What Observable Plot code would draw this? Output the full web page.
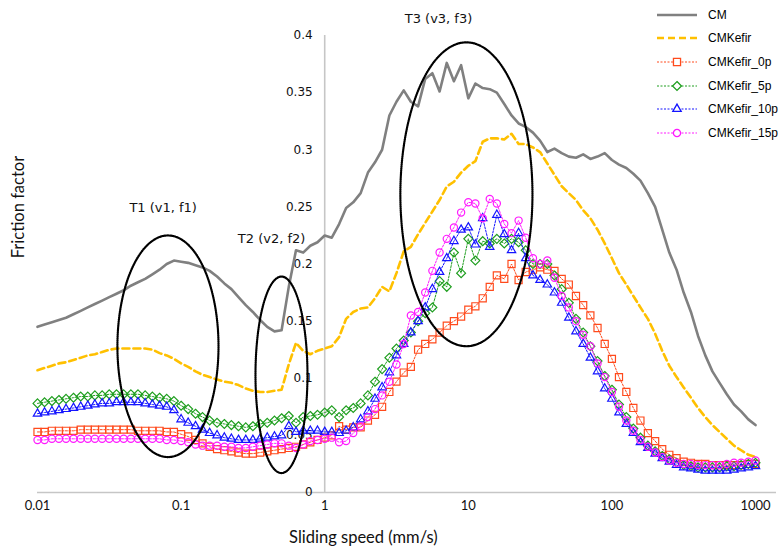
<!DOCTYPE html>
<html><head><meta charset="utf-8">
<script src="https://cdn.jsdelivr.net/npm/d3@7"></script>
<script src="https://cdn.jsdelivr.net/npm/@observablehq/plot@0.6"></script>
<style>
body{margin:0;background:#fff;}
#wrap{position:relative;width:779px;height:552px;overflow:hidden;}
#legend{position:absolute;left:656px;top:3px;font-family:"Liberation Sans",Arial,sans-serif;font-size:12px;color:#000;}
.item{display:flex;align-items:center;height:23.6px;white-space:nowrap;}
.item svg{margin-right:10px;}
</style></head><body><div id="wrap"></div>
<script>
// Sliding speed (mm/s) sample points
const speed = [
0.01,0.0112,0.0126,0.0141,0.0158,0.0178,0.02,0.0224,0.0251,0.0282,0.0316,0.0355,0.0398,0.0447,0.0501,0.0562,0.0631,0.0708,0.0794,0.0891,
0.1,0.112,0.126,0.141,0.158,0.178,0.2,0.224,0.251,0.282,0.316,0.355,0.398,0.447,0.501,0.562,0.631,0.708,0.794,0.891,
1,1.12,1.26,1.41,1.58,1.78,2,2.24,2.51,2.82,3.16,3.55,3.98,4.47,5.01,5.62,6.31,7.08,7.94,8.91,
10,11.2,12.6,14.1,15.8,17.8,20,22.4,25.1,28.2,31.6,35.5,39.8,44.7,50.1,56.2,63.1,70.8,79.4,89.1,
100,112,126,141,158,178,200,224,251,282,316,355,398,447,501,562,631,708,794,891,
1000];

const cm = [
0.145,0.147,0.149,0.151,0.153,0.156,0.159,0.162,0.165,0.168,
0.171,0.174,0.177,0.181,0.184,0.187,0.191,0.195,0.200,0.203,
0.202,0.201,0.199,0.197,0.194,0.189,0.183,0.178,0.171,0.164,
0.158,0.151,0.145,0.141,0.142,0.180,0.212,0.210,0.216,0.219,
0.225,0.223,0.235,0.249,0.254,0.262,0.280,0.289,0.300,0.330,
0.342,0.352,0.342,0.338,0.362,0.367,0.351,0.376,0.360,0.374,
0.345,0.358,0.354,0.353,0.350,0.340,0.330,0.323,0.320,0.315,
0.308,0.298,0.301,0.297,0.294,0.293,0.296,0.292,0.294,0.297,
0.291,0.287,0.284,0.279,0.273,0.262,0.250,0.230,0.210,0.195,
0.175,0.158,0.137,0.120,0.106,0.096,0.086,0.077,0.071,0.064,0.059];

const cmKefir = [
0.107,0.109,0.111,0.113,0.114,0.116,0.118,0.120,0.121,0.123,
0.125,0.126,0.126,0.126,0.126,0.126,0.125,0.122,0.120,0.117,
0.113,0.110,0.106,0.103,0.101,0.099,0.097,0.096,0.094,0.091,
0.089,0.088,0.088,0.089,0.090,0.112,0.131,0.124,0.121,0.124,
0.126,0.128,0.136,0.152,0.158,0.161,0.162,0.170,0.180,0.176,
0.192,0.211,0.215,0.226,0.236,0.246,0.256,0.268,0.272,0.280,
0.286,0.290,0.307,0.310,0.310,0.309,0.314,0.305,0.305,0.302,
0.298,0.288,0.278,0.268,0.262,0.256,0.247,0.240,0.230,0.218,
0.205,0.192,0.182,0.172,0.162,0.152,0.139,0.124,0.111,0.101,
0.092,0.083,0.074,0.066,0.059,0.053,0.047,0.041,0.037,0.033,0.031];

const kefir0p = [
0.053,0.053,0.054,0.054,0.054,0.054,0.055,0.055,0.055,0.055,
0.055,0.055,0.055,0.055,0.054,0.054,0.054,0.054,0.053,0.053,
0.051,0.049,0.046,0.043,0.040,0.038,0.037,0.036,0.035,0.034,
0.034,0.035,0.036,0.037,0.038,0.039,0.040,0.042,0.044,0.046,
0.048,0.050,0.058,0.055,0.057,0.057,0.063,0.068,0.075,0.088,
0.097,0.105,0.110,0.125,0.130,0.134,0.140,0.146,0.150,0.154,
0.160,0.163,0.170,0.180,0.190,0.187,0.200,0.186,0.193,0.195,
0.197,0.195,0.194,0.187,0.182,0.172,0.164,0.155,0.144,0.130,
0.117,0.101,0.088,0.074,0.063,0.052,0.045,0.038,0.033,0.030,
0.027,0.026,0.025,0.025,0.024,0.024,0.024,0.024,0.024,0.025,0.025];

const kefir5p = [
0.078,0.079,0.080,0.081,0.082,0.083,0.084,0.084,0.085,0.085,
0.086,0.086,0.086,0.086,0.086,0.085,0.084,0.083,0.082,0.080,
0.076,0.073,0.069,0.066,0.063,0.061,0.060,0.059,0.058,0.057,
0.058,0.060,0.061,0.063,0.065,0.067,0.061,0.066,0.067,0.068,
0.070,0.072,0.066,0.072,0.074,0.078,0.085,0.097,0.108,0.118,
0.126,0.133,0.140,0.150,0.157,0.162,0.185,0.180,0.210,0.192,
0.222,0.203,0.220,0.218,0.222,0.218,0.222,0.219,0.212,0.200,
0.200,0.200,0.190,0.178,0.166,0.152,0.140,0.128,0.115,0.102,
0.090,0.077,0.066,0.056,0.048,0.041,0.036,0.032,0.029,0.026,
0.024,0.023,0.022,0.022,0.022,0.022,0.023,0.023,0.024,0.025,0.026];

const kefir10p = [
0.069,0.070,0.071,0.072,0.073,0.074,0.075,0.076,0.077,0.078,
0.078,0.079,0.079,0.079,0.079,0.078,0.077,0.076,0.075,0.072,
0.064,0.061,0.058,0.055,0.052,0.050,0.048,0.047,0.046,0.046,
0.046,0.047,0.048,0.049,0.050,0.058,0.053,0.054,0.054,0.054,
0.053,0.053,0.052,0.054,0.057,0.064,0.071,0.082,0.092,0.105,
0.120,0.130,0.140,0.150,0.162,0.178,0.193,0.205,0.220,0.230,
0.232,0.217,0.240,0.215,0.243,0.226,0.212,0.227,0.205,0.190,
0.186,0.182,0.175,0.166,0.153,0.141,0.130,0.118,0.106,0.091,
0.082,0.070,0.060,0.052,0.044,0.039,0.034,0.030,0.027,0.024,
0.022,0.021,0.020,0.019,0.019,0.019,0.019,0.020,0.021,0.022,0.023];

const kefir15p = [
0.046,0.046,0.047,0.047,0.047,0.047,0.047,0.047,0.047,0.047,
0.047,0.047,0.047,0.047,0.047,0.047,0.047,0.047,0.046,0.046,
0.045,0.044,0.042,0.041,0.041,0.041,0.040,0.040,0.039,0.039,
0.040,0.041,0.042,0.043,0.043,0.041,0.039,0.042,0.045,0.046,
0.047,0.048,0.044,0.045,0.052,0.058,0.066,0.073,0.085,0.097,
0.112,0.130,0.155,0.158,0.175,0.194,0.210,0.222,0.232,0.245,
0.254,0.253,0.240,0.257,0.253,0.235,0.227,0.238,0.223,0.205,
0.200,0.203,0.188,0.172,0.162,0.150,0.138,0.128,0.113,0.101,
0.088,0.075,0.063,0.054,0.046,0.040,0.035,0.031,0.028,0.026,
0.025,0.025,0.024,0.024,0.024,0.024,0.025,0.026,0.026,0.027,0.028];

const seriesNames = ["CM","CMKefir","CMKefir_0p","CMKefir_5p","CMKefir_10p","CMKefir_15p"];
const seriesValues = [cm, cmKefir, kefir0p, kefir5p, kefir10p, kefir15p];
const seriesColors = ["#808080","#ffc000","#ff4a1c","#1e9e1e","#1414ff","#ff1aff"];
const seriesSymbols = [null, null, "square", "diamond2", "triangle2", "circle"];

const xTicks = [0.01, 0.1, 1, 10, 100, 1000];
const xTickLabels = ["0.01","0.1","1","10","100","1000"];
const yTicks = [0, 0.05, 0.1, 0.15, 0.2, 0.25, 0.3, 0.35, 0.4];
const yTickLabels = ["0","0.05","0.1","0.15","0.2","0.25","0.3","0.35","0.4"];
const yAxisAt = 1;

// annotation ellipses: centre (speed, friction), half-width in decades, half-height in friction units
const ellipseNames = ["T1 (v1, f1)","T2 (v2, f2)","T3 (v3, f3)"];
const ellipseCx = [0.081, 0.5, 9.7];
const ellipseCy = [0.128, 0.103, 0.261];
const ellipseRxDec = [0.352, 0.181, 0.46];
const ellipseRyF = [0.097, 0.086, 0.133];
const labelX = [0.075, 0.427, 6.2];
const labelY = [0.249, 0.222, 0.415];

const rows = seriesNames.map((n, s) => speed.map((v, i) => ({speed: v, f: seriesValues[s][i], name: n})));
const ellipsePts = [];
ellipseNames.forEach((n, e) => {
  for (let a = 0; a <= 360; a += 2) {
    const t = a * Math.PI / 180;
    ellipsePts.push({id: n, speed: ellipseCx[e] * Math.pow(10, ellipseRxDec[e] * Math.cos(t)), f: ellipseCy[e] + ellipseRyF[e] * Math.sin(t)});
  }
});

const marks = [
  Plot.ruleY([0], {stroke: "#c6c6c6", strokeWidth: 1.6}),
  Plot.ruleX([yAxisAt], {y1: 0, y2: 0.4, stroke: "#c6c6c6", strokeWidth: 1.6}),
  Plot.text(xTicks, {x: d => d, frameAnchor: "bottom", dy: 17, text: (d, i) => xTickLabels[i], fontFamily: "Lato, sans-serif", fontSize: 13, fill: "#111"}),
  Plot.text(yTicks, {x: yAxisAt, y: d => d, text: (d, i) => yTickLabels[i], textAnchor: "end", dx: -12, fontFamily: "DejaVu Sans, sans-serif", fontSize: 12, fill: "#111"}),
  Plot.text(["Sliding speed (mm/s)"], {x: 1.86, frameAnchor: "bottom", dy: 50, fontFamily: "Lato, sans-serif", fontSize: 16.5, fill: "#111"}),
  Plot.text(["Friction factor"], {y: 0.205, frameAnchor: "left", dx: -19, rotate: -90, fontFamily: "Lato, sans-serif", fontSize: 16.5, fill: "#111"})
];
// lines
seriesNames.forEach((n, s) => {
  if (seriesSymbols[s] === null) {
    marks.push(Plot.line(rows[s], {x: "speed", y: "f", stroke: seriesColors[s], strokeWidth: 2.6,
      strokeDasharray: s === 1 ? "7,4" : null}));
  }
});
seriesNames.forEach((n, s) => {
  if (seriesSymbols[s] !== null) {
    marks.push(Plot.line(rows[s], {x: "speed", y: "f", stroke: seriesColors[s], strokeWidth: 1, strokeDasharray: "2,1.5"}));
    marks.push(Plot.dot(rows[s], {x: "speed", y: "f", symbol: seriesSymbols[s], r: seriesSymbols[s] === "circle" ? 3.6 : 4, stroke: seriesColors[s], strokeWidth: 1.2, fill: "none"}));
  }
});
marks.push(Plot.line(ellipsePts, {x: "speed", y: "f", z: "id", stroke: "#000", strokeWidth: 2.2, strokeDasharray: "1,1.1"}));
marks.push(Plot.text(ellipseNames, {x: (d, i) => labelX[i], y: (d, i) => labelY[i], text: d => d, fontFamily: "DejaVu Sans, sans-serif", fontSize: 13, fill: "#111"}));

const chart = Plot.plot({
  width: 779, height: 552,
  marginLeft: 37, marginRight: 3, marginTop: 35, marginBottom: 60,
  x: {type: "log", domain: [0.01, 1400], axis: null},
  y: {domain: [0, 0.4], axis: null},
  style: {background: "#fff", overflow: "visible"},
  marks
});
const wrap = document.getElementById("wrap");
wrap.appendChild(chart);

// legend
const legend = document.createElement("div");
legend.id = "legend";
seriesNames.forEach((n, s) => {
  const item = document.createElement("div");
  item.className = "item";
  const svg = d3.create("svg").attr("width", 42).attr("height", 14);
  const ln = svg.append("line").attr("x1", 1).attr("x2", 41).attr("y1", 7).attr("y2", 7).attr("stroke", seriesColors[s]);
  if (s === 0) ln.attr("stroke-width", 2.6);
  else if (s === 1) ln.attr("stroke-width", 2.6).attr("stroke-dasharray", "7,4");
  else {
    ln.attr("stroke-width", 1).attr("stroke-dasharray", "2,1.5");
    const types = {square: d3.symbolSquare, diamond2: d3.symbolDiamond2, triangle2: d3.symbolTriangle2, circle: d3.symbolCircle};
    const r = seriesSymbols[s] === "circle" ? 3.6 : 4;
    svg.append("path").attr("transform", "translate(21,7)")
      .attr("d", d3.symbol().type(types[seriesSymbols[s]]).size(Math.PI * r * r)())
      .attr("fill", "#fff").attr("stroke", seriesColors[s]).attr("stroke-width", 1.3);
  }
  item.appendChild(svg.node());
  const label = document.createElement("span");
  label.textContent = n;
  item.appendChild(label);
  legend.appendChild(item);
});
wrap.appendChild(legend);
</script>
</body></html>
